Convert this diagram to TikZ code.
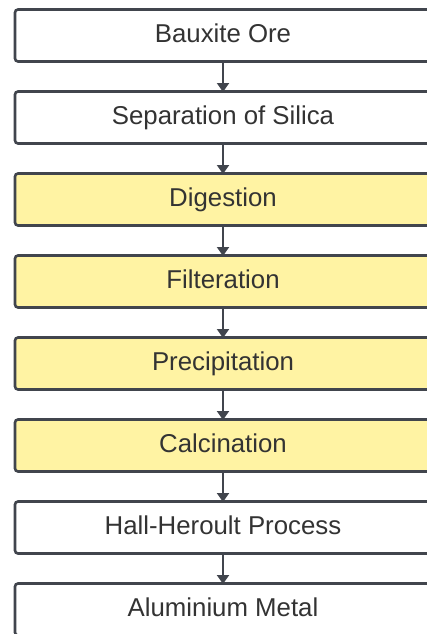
\documentclass[tikz,border=0pt]{standalone}
\usepackage{fontspec}
\setmainfont{Liberation Sans}
\usepackage{xcolor}
\usetikzlibrary{arrows.meta, positioning}
\definecolor{edge}{HTML}{41454D}
\definecolor{ink}{HTML}{333333}
\definecolor{stepyellow}{HTML}{FFF3A3}

\begin{document}
\begin{tikzpicture}[
    x=1pt, y=-1pt,
    >={Triangle[length=9pt, width=12pt]},
    procbox/.style={draw=edge, line width=2.6pt, rounded corners=3pt, fill=#1, minimum width=416pt, minimum height=52pt, inner sep=0pt, outer sep=0pt, text height=18.5pt, text depth=5pt, text=ink, font=\fontsize{25.8}{30}\selectfont},
    procbox/.default=white,
    flow/.style={->, draw=edge, line width=2pt, shorten <=1pt, shorten >=-0.5pt},
]
    \useasboundingbox (0, 0) rectangle (427, 634);

    % Steps
    \node[procbox] (ore) at (223, 35.5) {Bauxite Ore};
    \node[procbox, below=30pt of ore] (silica) {Separation of Silica};
    \node[procbox=stepyellow, below=30pt of silica] (digest) {Digestion};
    \node[procbox=stepyellow, below=30pt of digest] (filter) {Filteration};
    \node[procbox=stepyellow, below=30pt of filter] (precip) {Precipitation};
    \node[procbox=stepyellow, below=30pt of precip] (calcin) {Calcination};
    \node[procbox, below=30pt of calcin] (hall) {Hall-Heroult Process};
    \node[procbox, below=30pt of hall] (metal) {Aluminium Metal};

    % Arrows
    \draw[flow] (ore) -- (silica);
    \draw[flow] (silica) -- (digest);
    \draw[flow] (digest) -- (filter);
    \draw[flow] (filter) -- (precip);
    \draw[flow] (precip) -- (calcin);
    \draw[flow] (calcin) -- (hall);
    \draw[flow] (hall) -- (metal);
\end{tikzpicture}
\end{document}
